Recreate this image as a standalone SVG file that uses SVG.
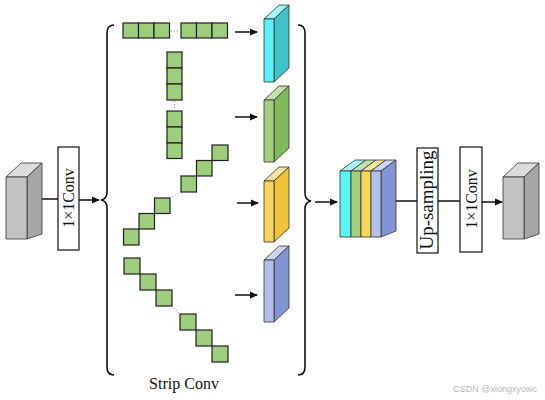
<svg xmlns="http://www.w3.org/2000/svg" width="545" height="400" viewBox="0 0 545 400">
<defs>
<style>
.sq{fill:#9fcd7e;stroke:#1e1e1e;stroke-width:1.2}
.ln{stroke:#111;stroke-width:1.5;fill:none}
.br{stroke:#111;stroke-width:1.6;fill:none}
.dot{stroke:#888;stroke-width:1;stroke-dasharray:1 2;fill:none}
.bx{fill:#fff;stroke:#111;stroke-width:1.2}
.ed{stroke:#333;stroke-width:0.8;stroke-linejoin:round}
.t{font-family:"Liberation Serif","Times New Roman",serif;fill:#111}
</style>
<marker id="ah" markerWidth="8" markerHeight="8" refX="7" refY="4" orient="auto" markerUnits="userSpaceOnUse">
<path d="M0,0.5 L8,4 L0,7.5 Z" fill="#111"/>
</marker>
</defs>
<rect width="545" height="400" fill="#fff"/>

<g id="input">
<polygon class="ed" points="6,177 27,177 42,163 21,163" fill="#dcdcdc"/>
<polygon class="ed" points="27,177 42,163 42,234 27,239" fill="#a6a6a6"/>
<rect class="ed" x="6" y="177" width="21" height="62" fill="#c2c2c2"/>
</g>

<g id="conv1">
<rect class="bx" x="58" y="147" width="21" height="103"/>
<text class="t" font-size="16" text-anchor="middle" transform="translate(74,198) rotate(-90)">1×1Conv</text>
</g>

<g id="strip-h">
<rect class="sq" x="123" y="23" width="15.5" height="15"/>
<rect class="sq" x="138.5" y="23" width="15.5" height="15"/>
<rect class="sq" x="154" y="23" width="15.5" height="15"/>
<rect class="sq" x="181" y="23" width="15.5" height="15"/>
<rect class="sq" x="196.5" y="23" width="15.5" height="15"/>
<rect class="sq" x="212" y="23" width="15.5" height="15"/>
</g>
<g id="strip-v">
<rect class="sq" x="167" y="52" width="15" height="16"/>
<rect class="sq" x="167" y="68" width="15" height="16"/>
<rect class="sq" x="167" y="84" width="15" height="16"/>
<rect class="sq" x="167" y="111" width="15" height="16"/>
<rect class="sq" x="167" y="127" width="15" height="16"/>
<rect class="sq" x="167" y="143" width="15" height="15.5"/>
</g>
<g id="strip-d1">
<rect class="sq" x="212" y="145" width="16" height="15.5"/>
<rect class="sq" x="196.5" y="160.5" width="15.5" height="15.5"/>
<rect class="sq" x="181" y="176" width="15.5" height="16"/>
<rect class="sq" x="154.5" y="198" width="15.5" height="15.5"/>
<rect class="sq" x="139" y="213.5" width="15.5" height="15.5"/>
<rect class="sq" x="123.5" y="229" width="15.5" height="16"/>
</g>
<g id="strip-d2">
<rect class="sq" x="124" y="258" width="16" height="16"/>
<rect class="sq" x="140" y="274" width="16" height="16"/>
<rect class="sq" x="156" y="290" width="16" height="16"/>
<rect class="sq" x="180" y="314" width="16" height="16"/>
<rect class="sq" x="196" y="330" width="16" height="16"/>
<rect class="sq" x="212" y="346" width="16" height="16"/>
</g>

<g id="fm-cyan">
<polygon class="ed" points="264,19 274,19 289,5 279,5" fill="#a6f4f6"/>
<polygon class="ed" points="274,19 289,5 289,68 274,82" fill="#3fc3c7"/>
<rect class="ed" x="264" y="19" width="10" height="63" fill="#5ef1f5"/>
</g>
<g id="fm-green">
<polygon class="ed" points="264,100 274,100 289,86 279,86" fill="#c3dfad"/>
<polygon class="ed" points="274,100 289,86 289,148 274,162" fill="#80b85c"/>
<rect class="ed" x="264" y="100" width="10" height="62" fill="#a2ce82"/>
</g>
<g id="fm-yellow">
<polygon class="ed" points="264,181 274,181 289,167 279,167" fill="#f8e39c"/>
<polygon class="ed" points="274,181 289,167 289,228 274,242" fill="#f0c23a"/>
<rect class="ed" x="264" y="181" width="10" height="61" fill="#f7d45e"/>
</g>
<g id="fm-purple">
<polygon class="ed" points="264,260 274,260 289,246 279,246" fill="#cdd4f1"/>
<polygon class="ed" points="274,260 289,246 289,308 274,322" fill="#8393d5"/>
<rect class="ed" x="264" y="260" width="10" height="62" fill="#b4c0ea"/>
</g>

<g id="concat">
<polygon class="ed" points="340,171 351,171 366,160 355,160" fill="#a6f4f6"/>
<polygon class="ed" points="351,171 361,171 376,160 366,160" fill="#c3dfad"/>
<polygon class="ed" points="361,171 371,171 386,160 376,160" fill="#f8e39c"/>
<polygon class="ed" points="371,171 381,171 396,160 386,160" fill="#cdd4f1"/>
<polygon class="ed" points="381,171 396,160 396,231 381,237" fill="#8393d5"/>
<rect class="ed" x="340" y="171" width="11" height="66" fill="#5ef1f5"/>
<rect class="ed" x="351" y="171" width="10" height="66" fill="#a2ce82"/>
<rect class="ed" x="361" y="171" width="10" height="66" fill="#f7d45e"/>
<rect class="ed" x="371" y="171" width="10" height="66" fill="#b4c0ea"/>
</g>

<g id="upsampling">
<rect class="bx" x="417" y="148" width="21" height="105"/>
<text class="t" font-size="18" text-anchor="middle" textLength="99" lengthAdjust="spacingAndGlyphs" transform="translate(433,200) rotate(-90)">Up-sampling</text>
</g>

<g id="conv2">
<rect class="bx" x="460" y="147" width="22" height="105"/>
<text class="t" font-size="16" text-anchor="middle" transform="translate(476.5,199) rotate(-90)">1×1Conv</text>
</g>

<g id="output">
<polygon class="ed" points="503,177 524,177 539,163 518,163" fill="#dcdcdc"/>
<polygon class="ed" points="524,177 539,163 539,234 524,239" fill="#a6a6a6"/>
<rect class="ed" x="503" y="177" width="21" height="62" fill="#c2c2c2"/>
</g>

<g id="connectors">
<path class="br" d="M114,25 Q107,25 107,33 L107,192 Q107,199 101,200 Q107,201 107,208 L107,367 Q107,375 114,375"/>
<path class="br" d="M298,25 Q305,25 305,33 L305,193 Q305,200 311,201 Q305,202 305,209 L305,367 Q305,375 298,375"/>
<path class="dot" d="M171,31 L181,31"/>
<path class="dot" d="M174.5,101 L174.5,111"/>
<path class="dot" d="M181,192 L170,198"/>
<path class="dot" d="M172,306 L180,314"/>
<line class="ln" x1="42" y1="199" x2="58" y2="199"/>
<line class="ln" x1="79" y1="200" x2="99" y2="200" marker-end="url(#ah)"/>
<line class="ln" x1="235" y1="32" x2="257" y2="32" marker-end="url(#ah)"/>
<line class="ln" x1="235" y1="117" x2="257" y2="117" marker-end="url(#ah)"/>
<line class="ln" x1="237" y1="203" x2="258" y2="203" marker-end="url(#ah)"/>
<line class="ln" x1="235" y1="295" x2="257" y2="295" marker-end="url(#ah)"/>
<line class="ln" x1="315" y1="202" x2="337" y2="202" marker-end="url(#ah)"/>
<line class="ln" x1="396" y1="201" x2="417" y2="201"/>
<line class="ln" x1="438" y1="201" x2="460" y2="201"/>
<line class="ln" x1="482" y1="202" x2="502" y2="202" marker-end="url(#ah)"/>
</g>

<text class="t" font-size="16" x="184" y="389" text-anchor="middle">Strip Conv</text>
<text x="537" y="392" font-family="'Liberation Sans',Arial,sans-serif" font-size="9" fill="#b5b5b5" text-anchor="end">CSDN @xiongxyowc</text>
</svg>
